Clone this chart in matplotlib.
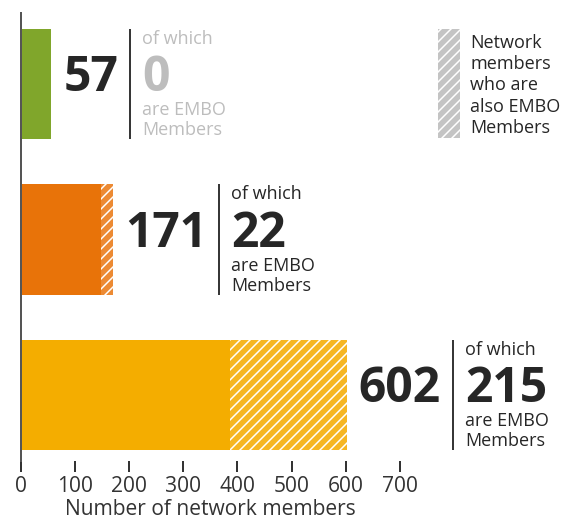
import matplotlib
matplotlib.use("Agg")
import matplotlib.pyplot as plt
from matplotlib.patches import Rectangle

# Data
totals = [57, 171, 602]
embo = [0, 22, 215]
colors = ["#80a62b", "#e87309", "#f4ad00"]
hatch_colors = ["#94b54a", "#ec8a33", "#f6b622"]
xticks = [0, 100, 200, 300, 400, 500, 600, 700]
xlabel = "Number of network members"
legend_text = "Network\nmembers\nwho are\nalso EMBO\nMembers"

DPI = 120
PX = 72 / DPI  # points per pixel

plt.rcParams["font.family"] = ["Open Sans", "DejaVu Sans"]
plt.rcParams["hatch.linewidth"] = 0.9
dark = "#262626"
light = "#bdbdbd"

fig = plt.figure(figsize=(573 / DPI, 524 / DPI), dpi=DPI)
W, H = 573, 524
ax = fig.add_axes([20.5 / W, 1 - 461 / H, (400 - 20.5) / W, (461 - 13) / H])

bar_h = 110 / 155

for i, (t, e) in enumerate(zip(totals, embo)):
    ax.barh(i, t - e, height=bar_h, color=colors[i], linewidth=0)
    if e > 0:
        ax.barh(i, e, left=t - e, height=bar_h, color=hatch_colors[i],
                edgecolor="white", linewidth=0, hatch="////")

ax.set_xlim(0, 700)
ax.set_ylim(2.426, -0.458)
ax.set_xticks(xticks)
ax.set_yticks([])
for s in ["top", "right", "bottom"]:
    ax.spines[s].set_visible(False)
ax.spines["left"].set_color("#555555")
ax.spines["left"].set_linewidth(1.2)
axis_fs = 21 * PX
ax.tick_params(axis="x", length=11 * PX, width=1.2, color="#333333",
               pad=4 * PX, labelsize=axis_fs, labelcolor="#333333")
ax.set_xlabel(xlabel, fontsize=axis_fs, color="#333333", labelpad=2 * PX)

big_fs = 48 * PX
small_fs = 18 * PX
num_texts = []
for i, t in enumerate(totals):
    top = i - bar_h / 2
    nt = ax.annotate(str(t), xy=(t, top + 62 / 155), xytext=(12, 0),
                     textcoords="offset pixels", fontsize=big_fs,
                     fontweight="bold", color=dark, va="baseline", ha="left",
                     annotation_clip=False)
    num_texts.append(nt)

fig.canvas.draw()
renderer = fig.canvas.get_renderer()
inv = ax.transData.inverted()
for i, (t, e) in enumerate(zip(totals, embo)):
    top = i - bar_h / 2
    bb = num_texts[i].get_window_extent(renderer)
    x_div = inv.transform((bb.x1 + 12, 0))[0]
    x_txt = inv.transform((bb.x1 + 24, 0))[0]
    ax.plot([x_div, x_div], [top, top + bar_h], color=dark, lw=1.1,
            clip_on=False, solid_capstyle="butt")
    c = light if e == 0 else dark
    ax.text(x_txt, top + 15 / 155, "of which", fontsize=small_fs, color=c,
            va="baseline", ha="left", clip_on=False)
    ax.text(x_txt, top + 62 / 155, str(e), fontsize=big_fs, fontweight="bold",
            color=c, va="baseline", ha="left", clip_on=False)
    ax.text(x_txt, top + 86 / 155, "are EMBO", fontsize=small_fs, color=c,
            va="baseline", ha="left", clip_on=False)
    ax.text(x_txt, top + 106 / 155, "Members", fontsize=small_fs, color=c,
            va="baseline", ha="left", clip_on=False)

# Legend
fig.patches.append(Rectangle((438 / W, 1 - 138 / H), 22 / W, 109 / H,
                             transform=fig.transFigure, facecolor="#c4c4c4",
                             edgecolor="white", linewidth=0, hatch="////"))
fig.text(470 / W, 1 - 133 / H, legend_text, fontsize=small_fs, color=dark,
         va="baseline", ha="left", linespacing=1.24)

fig.savefig("out.png", dpi=DPI)
